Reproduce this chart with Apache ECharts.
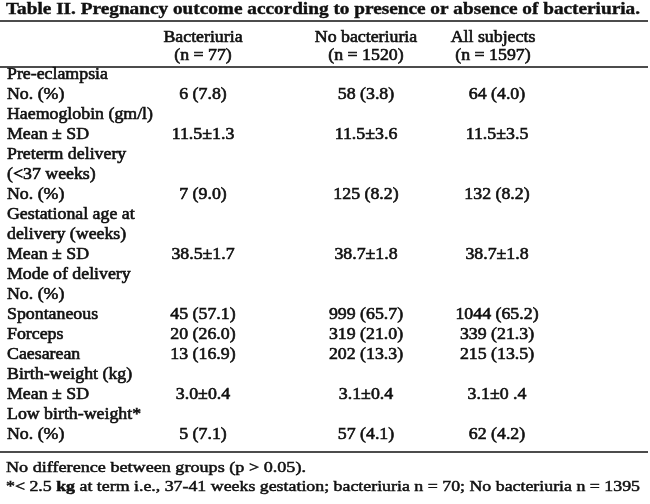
<!DOCTYPE html>
<html>
<head>
<meta charset="utf-8">
<title>Table II</title>
<script src="https://cdn.jsdelivr.net/npm/echarts@6/dist/echarts.min.js"></script>
<style>
html,body{margin:0;padding:0;background:#fff;}
#main{width:650px;height:504px;}
</style>
</head>
<body>
<div id="main"></div>
<script>
// table text
var titleText = 'Table II. Pregnancy outcome according to presence or absence of bacteriuria.';
var groupNames = ['Bacteriuria', 'No bacteriuria', 'All subjects'];
var groupSizes = ['(n = 77)', '(n = 1520)', '(n = 1597)'];
var rowLabels = ['Pre-eclampsia', 'No. (%)', 'Haemoglobin (gm/l)', 'Mean \u00b1 SD',
    'Preterm delivery', '(<37 weeks)', 'No. (%)', 'Gestational age at', 'delivery (weeks)',
    'Mean \u00b1 SD', 'Mode of delivery', 'No. (%)', 'Spontaneous', 'Forceps', 'Caesarean',
    'Birth-weight (kg)', 'Mean \u00b1 SD', 'Low birth-weight*', 'No. (%)'];
var bacteriuria = ['', '6 (7.8)', '', '11.5\u00b11.3', '', '', '7 (9.0)', '', '', '38.5\u00b11.7',
    '', '', '45 (57.1)', '20 (26.0)', '13 (16.9)', '', '3.0\u00b10.4', '', '5 (7.1)'];
var noBacteriuria = ['', '58 (3.8)', '', '11.5\u00b13.6', '', '', '125 (8.2)', '', '', '38.7\u00b11.8',
    '', '', '999 (65.7)', '319 (21.0)', '202 (13.3)', '', '3.1\u00b10.4', '', '57 (4.1)'];
var allSubjects = ['', '64 (4.0)', '', '11.5\u00b13.5', '', '', '132 (8.2)', '', '', '38.7\u00b11.8',
    '', '', '1044 (65.2)', '339 (21.3)', '215 (13.5)', '', '3.1\u00b10 .4', '', '62 (4.2)'];
var footNote1 = 'No difference between groups (p > 0.05).';
var footNote2 = ['*< 2.5 ', 'kg', ' at term i.e., 37-41 weeks gestation; bacteriuria n = 70; No bacteriuria n = 1395'];

var FONT = '"Liberation Serif", "Times New Roman", serif';
var INK = '#111';
var cellFont = '16.5px ' + FONT;
var CELL_SCALE = 1.08;
var colX = [7, 203, 366, 497];      // label column left edge, then centres of the 3 groups
var headX = [203, 366, 493];
var rowFirst = 75, rowPitch = 20;

var myChart = echarts.init(document.getElementById('main'), null, {renderer: 'canvas'});

// measure text so long lines can be stretched to the printed width
var ctx = document.createElement('canvas').getContext('2d');
function textWidth(text, font) {
    ctx.font = font;
    return ctx.measureText(text).width;
}

// one column of the table, placed on the hidden axes
function cellSeries(values, x, align) {
    var data = [];
    for (var i = 0; i < values.length; i++) {
        if (values[i] !== '') {
            data.push([x, i, values[i]]);
        }
    }
    return {
        type: 'custom',
        silent: true,
        data: data,
        encode: {x: 0, y: 1},
        renderItem: function (params, api) {
            var p = api.coord([api.value(0), api.value(1)]);
            return {
                type: 'text',
                x: p[0],
                y: p[1],
                scaleX: CELL_SCALE,
                style: {
                    text: data[params.dataIndex][2],
                    font: cellFont,
                    fill: INK,
                    align: align,
                    verticalAlign: 'middle',
                    stroke: INK,
                    lineWidth: 0.6
                }
            };
        }
    };
}

var titleFont = 'bold 17px ' + FONT;
var noteFont = '15px ' + FONT;
var noteBold = 'bold 15px ' + FONT;
var note2Width = textWidth(footNote2[0], noteFont) + textWidth(footNote2[1], noteBold) +
    textWidth(footNote2[2], noteFont);

var graphics = [
    {type: 'text', x: 6, y: 10, scaleX: 634 / textWidth(titleText, titleFont),
        style: {text: titleText, font: titleFont, fill: INK, verticalAlign: 'middle',
            stroke: INK, lineWidth: 0.4}},
    {type: 'line', shape: {x1: 0, y1: 21, x2: 648, y2: 21}, style: {stroke: INK, lineWidth: 1.6}},
    {type: 'line', shape: {x1: 0, y1: 67, x2: 648, y2: 67}, style: {stroke: INK, lineWidth: 1.3}},
    {type: 'line', shape: {x1: 0, y1: 452, x2: 648, y2: 452}, style: {stroke: INK, lineWidth: 1.3}}
];
for (var g = 0; g < groupNames.length; g++) {
    graphics.push({type: 'text', x: headX[g], y: 38, scaleX: CELL_SCALE,
        style: {text: groupNames[g], font: cellFont, fill: INK, align: 'center',
            verticalAlign: 'middle', stroke: INK, lineWidth: 0.6}});
    graphics.push({type: 'text', x: headX[g], y: 56, scaleX: CELL_SCALE,
        style: {text: groupSizes[g], font: cellFont, fill: INK, align: 'center',
            verticalAlign: 'middle', stroke: INK, lineWidth: 0.6}});
}
graphics.push({type: 'text', x: 6, y: 468, scaleX: 300 / textWidth(footNote1, noteFont),
    style: {text: footNote1, font: noteFont, fill: INK, verticalAlign: 'middle',
        stroke: INK, lineWidth: 0.5}});
graphics.push({type: 'text', x: 6, y: 487, scaleX: 634 / note2Width,
    style: {
        text: footNote2[0] + '{b|' + footNote2[1] + '}' + footNote2[2],
        font: noteFont, fill: INK, verticalAlign: 'middle', stroke: INK, lineWidth: 0.5,
        rich: {b: {font: noteBold, fill: INK}}
    }});

var option = {
    backgroundColor: '#fff',
    animation: false,
    grid: {left: 0, right: 0, top: rowFirst - rowPitch / 2, height: rowPitch * rowLabels.length},
    xAxis: {type: 'value', min: 0, max: 650, show: false},
    yAxis: {
        type: 'category',
        inverse: true,
        show: false,
        data: rowLabels.map(function (d, i) { return 'r' + i; })
    },
    series: [
        cellSeries(rowLabels, colX[0], 'left'),
        cellSeries(bacteriuria, colX[1], 'center'),
        cellSeries(noBacteriuria, colX[2], 'center'),
        cellSeries(allSubjects, colX[3], 'center')
    ],
    graphic: graphics
};
myChart.setOption(option);
</script>
</body>
</html>
